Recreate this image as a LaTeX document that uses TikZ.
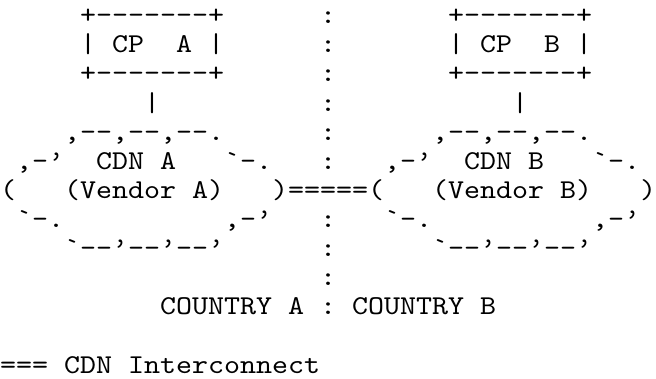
\documentclass[tikz,border=0pt]{standalone}
\usepackage{fontspec}
% typewriter face widened so that one character cell is 16pt
\newfontfamily\asciifont{lmmono10-regular.otf}[FakeStretch=1.12, Ligatures=TeXOff]
\begin{document}
\begin{tikzpicture}[x=1pt,y=1pt,
  ascii/.style={font=\asciifont\fontsize{27.2}{29.1}\selectfont, inner sep=0pt, anchor=base west, text=black}]
\useasboundingbox (0,0) rectangle (656,-379);
% one text column is 16pt wide, one text row is 29.1pt high
% --- content provider boxes
\node[ascii] (boxAtop) at (80,-23.8) {+-------+};
\node[ascii] (boxBtop) at (448,-23.8) {+-------+};
\node[ascii] (boxAl) at (80,-52.9) {|};
\node[ascii] (cpA) at (112,-52.9) {CP};
\node[ascii] (cpAn) at (176,-52.9) {A};
\node[ascii] (boxAr) at (208,-52.9) {|};
\node[ascii] (boxBl) at (448,-52.9) {|};
\node[ascii] (cpB) at (480,-52.9) {CP};
\node[ascii] (cpBn) at (544,-52.9) {B};
\node[ascii] (boxBr) at (576,-52.9) {|};
\node[ascii] (boxAbot) at (80,-82) {+-------+};
\node[ascii] (boxBbot) at (448,-82) {+-------+};
% --- links from providers to CDNs
\node[ascii] (linkA) at (144,-111.1) {|};
\node[ascii] (linkB) at (512,-111.1) {|};
% --- CDN clouds
\node[ascii] (cloudAtop) at (64,-140.2) {,--,--,--.};
\node[ascii] (cloudBtop) at (432,-140.2) {,--,--,--.};
\node[ascii] (cloudAul) at (16,-169.3) {,-’};
\node[ascii] (cdnA) at (96,-169.3) {CDN A};
\node[ascii] (cloudAur) at (224,-169.3) {`-.};
\node[ascii] (cloudBul) at (384,-169.3) {,-’};
\node[ascii] (cdnB) at (464,-169.3) {CDN B};
\node[ascii] (cloudBur) at (592,-169.3) {`-.};
\node[ascii] (cloudAl) at (0,-198.4) {(};
\node[ascii] (vendA) at (64,-198.4) {(Vendor A)};
\node[ascii] (interc) at (272,-198.4) {)=====(};
\node[ascii] (vendB) at (432,-198.4) {(Vendor B)};
\node[ascii] (cloudBr) at (640,-198.4) {)};
\node[ascii] (cloudAll) at (16,-227.5) {`-.};
\node[ascii] (cloudAlr) at (224,-227.5) {,-’};
\node[ascii] (cloudBll) at (384,-227.5) {`-.};
\node[ascii] (cloudBlr) at (592,-227.5) {,-’};
\node[ascii] (cloudAbot) at (64,-256.6) {`--’--’--’};
\node[ascii] (cloudBbot) at (432,-256.6) {`--’--’--’};
% --- border between the countries
\foreach \r in {0,1,2,3,4,5,7,8,9,10}
  \node[ascii] (border\r) at (320,{-23.8-29.1*\r}) {:};
\node[ascii] (countryA) at (160,-314.8) {COUNTRY A};
\node[ascii] (countryB) at (352,-314.8) {COUNTRY B};
% --- legend
\node[ascii] (legend) at (0,-373) {=== CDN Interconnect};
\end{tikzpicture}
\end{document}
